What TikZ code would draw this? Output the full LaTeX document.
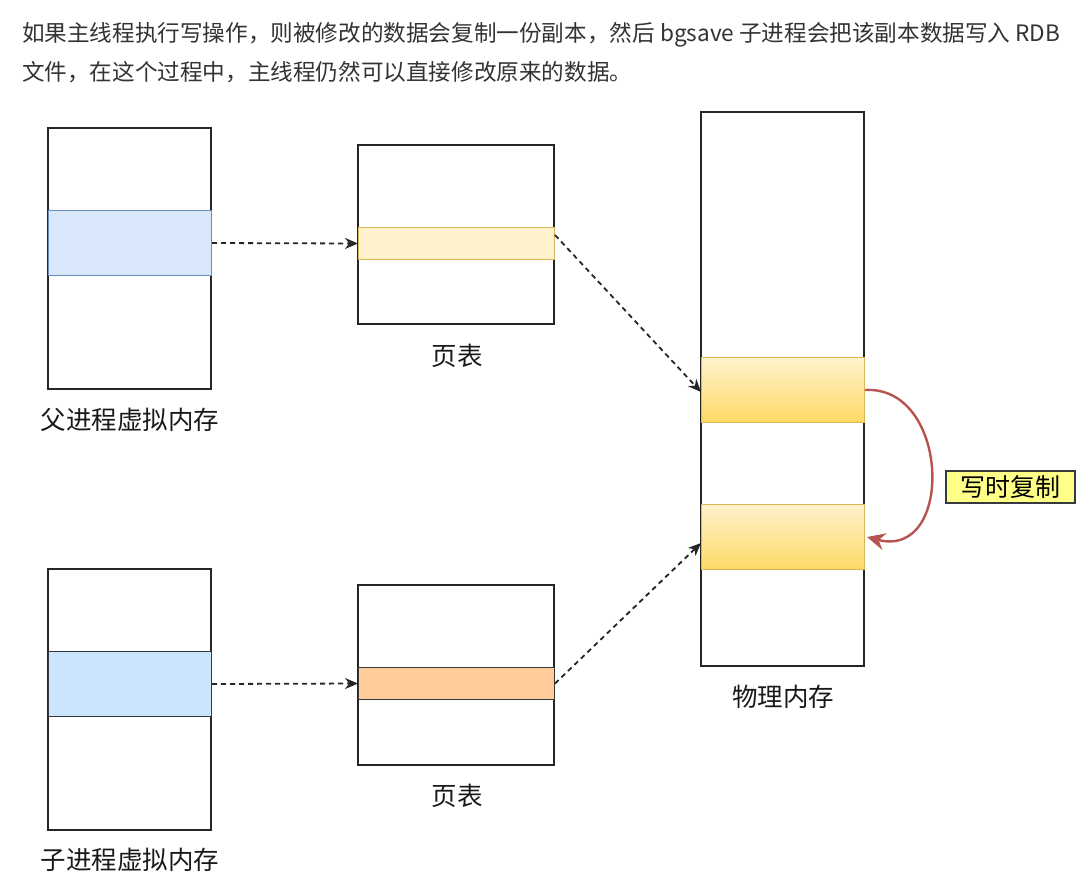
\documentclass[tikz,border=0pt]{standalone}
\usepackage{fontspec}
\setmainfont{Noto Sans CJK SC}
\newfontfamily\cjk{Noto Sans CJK SC}
\usetikzlibrary{arrows.meta}
\definecolor{txt}{HTML}{333333}
\definecolor{blueA}{HTML}{DAE8FC}
\definecolor{blueAb}{HTML}{6C8EBF}
\definecolor{blueB}{HTML}{CCE5FF}
\definecolor{yelA}{HTML}{FFF2CC}
\definecolor{yelB}{HTML}{FFD966}
\definecolor{yelb}{HTML}{D6B656}
\definecolor{oran}{HTML}{FFCC99}
\definecolor{darkb}{HTML}{36393D}
\definecolor{redc}{HTML}{B85450}
\definecolor{note}{HTML}{FFFF88}
\tikzset{
  box/.style={draw=black!85, line width=1.3pt, fill=white},
  dasharrow/.style={draw=black!85, line width=1.8pt, dash pattern=on 5pt off 4pt, -{Stealth[length=13pt,width=11pt]}},
  lbl/.style={font=\fontsize{25.5}{28}\selectfont, text=black!90},
}
\begin{document}
\begin{tikzpicture}[x=1pt,y=-1pt]
\useasboundingbox (0,0) rectangle (1090,886);
% top text
\node[anchor=base west, text=txt, font=\fontsize{22.6}{24}\selectfont, inner sep=0] (t1) at (22,41) {如果主线程执行写操作，则被修改的数据会复制一份副本，然后 bgsave 子进程会把该副本数据写入 RDB};
\node[anchor=base west, text=txt, font=\fontsize{22.6}{24}\selectfont, inner sep=0] (t2) at (22,80) {文件，在这个过程中，主线程仍然可以直接修改原来的数据。};
% parent virtual memory
\draw[box] (48,128) rectangle (211,389);
\node[draw=blueAb, fill=blueA, line width=1pt, minimum width=163pt, minimum height=65pt, inner sep=0, anchor=north west] (pb) at (48,210) {};
\node[lbl] (pl) at (130,420) {父进程虚拟内存};
% page table top
\draw[box] (358,145) rectangle (554,324);
\node[draw=yelb, fill=yelA, line width=1pt, minimum width=196pt, minimum height=32pt, inner sep=0, anchor=north west] (tb) at (358,227) {};
\node[lbl] (tl) at (457,356) {页表};
% physical memory
\draw[box] (701,112) rectangle (864,666);
\node[draw=yelb, top color=yelA, bottom color=yelB, line width=1pt, minimum width=163pt, minimum height=65pt, inner sep=0, anchor=north west] (m1) at (701,357) {};
\node[draw=yelb, top color=yelA, bottom color=yelB, line width=1pt, minimum width=163pt, minimum height=65pt, inner sep=0, anchor=north west] (m2) at (701,504) {};
\node[lbl] (ml) at (783,697) {物理内存};
% child virtual memory
\draw[box] (48,569) rectangle (211,830);
\node[draw=darkb, fill=blueB, line width=1pt, minimum width=163pt, minimum height=65pt, inner sep=0, anchor=north west] (cb) at (48,651) {};
\node[lbl] (cl) at (130,860) {子进程虚拟内存};
% page table bottom
\draw[box] (358,585) rectangle (554,765);
\node[draw=darkb, fill=oran, line width=1pt, minimum width=196pt, minimum height=32pt, inner sep=0, anchor=north west] (bb) at (358,667) {};
\node[lbl] (bl) at (457,796) {页表};
% connectors
\draw[dasharrow] (pb.east) -- (tb.west);
\draw[dasharrow] (cb.east) -- (bb.west);
\draw[dasharrow] (tb.north east) ++(0,8) -- ([yshift=-2pt]m1.west);
\draw[dasharrow] (bb.east) -- ([yshift=-6pt]m2.west);
% copy on write
\draw[redc, line width=2.4pt, -{Stealth[length=18pt,width=17pt,inset=6pt]}] (m1.east) .. controls (950,385) and (955,560) .. ([xshift=2pt]m2.east);
\node[draw=darkb, fill=note, line width=1.2pt, minimum width=129pt, minimum height=32pt, inner sep=0, font=\fontsize{25}{27}\selectfont] (note) at (1010.5,487) {写时复制};
\end{tikzpicture}
\end{document}
